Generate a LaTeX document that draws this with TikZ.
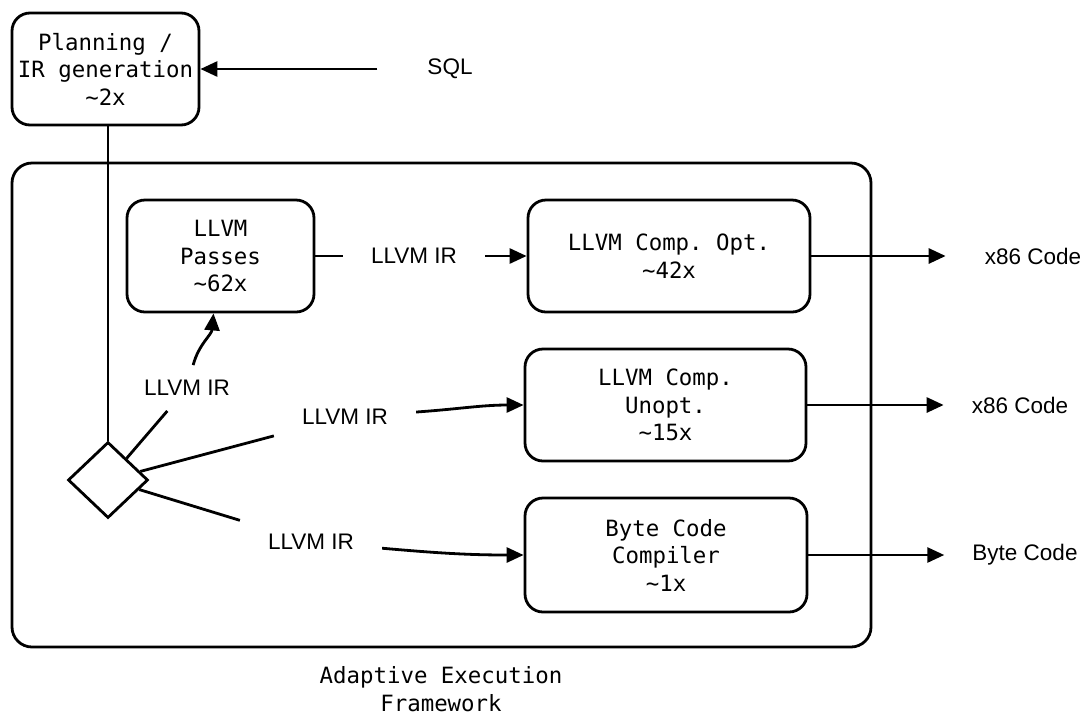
\documentclass[tikz,border=0pt]{standalone}
\usepackage{fontspec}
\setmainfont{Liberation Sans}
\setmonofont{DejaVu Sans Mono}
\usetikzlibrary{arrows.meta, shapes.geometric}

\begin{document}
\begin{tikzpicture}[x=1pt, y=1pt,
        box/.style={draw, line width=2.8pt, rounded corners=18pt, align=center, inner sep=0pt,
            font=\ttfamily\fontsize{22.4}{27.5}\selectfont},
        lbl/.style={inner xsep=28pt, inner ysep=15pt, font=\fontsize{22.5}{26}\selectfont},
        conn/.style={line width=2.8pt},
        arr/.style={line width=2.8pt, -{Triangle[length=17pt, width=15pt]}}]
    \useasboundingbox (0,0) rectangle (1083,-716);

    % outer frame and its caption
    \node[box, rounded corners=20pt, minimum width=859pt, minimum height=484pt] at (441.5,-405) (frame) {};
    \node[font=\ttfamily\fontsize{22.4}{28}\selectfont, align=center] at (441,-689) (caption) {Adaptive Execution\\Framework};

    % stages
    \node[box, minimum width=187pt, minimum height=112pt] at (105.5,-69) (plan) {Planning /\\IR generation\\\textasciitilde2x};
    \node[box, minimum width=187pt, minimum height=112pt] at (220.5,-256) (passes) {LLVM\\Passes\\\textasciitilde62x};
    \node[box, minimum width=282pt, minimum height=112pt] at (669,-256) (opt) {LLVM Comp. Opt.\\\textasciitilde42x};
    \node[box, minimum width=281pt, minimum height=112pt] at (665.5,-405) (unopt) {LLVM Comp.\\Unopt.\\\textasciitilde15x};
    \node[box, minimum width=282pt, minimum height=114pt] at (666,-555) (bytec) {Byte Code\\Compiler\\\textasciitilde1x};
    \node[draw, diamond, line width=2.8pt, inner sep=0pt, minimum width=80pt, minimum height=76pt] at (108,-480) (dia) {};

    % edge labels
    \node[lbl, inner xsep=50pt] at (450,-69) (sql) {SQL};
    \node[lbl] at (414,-256) (ir0) {LLVM IR};
    \node[lbl] at (187,-388) (ir1) {LLVM IR};
    \node[lbl] at (345,-417) (ir2) {LLVM IR};
    \node[lbl] at (311,-542) (ir3) {LLVM IR};
    \node[lbl, inner xsep=39pt] at (1033,-256) (optout) {x86 Code};
    \node[lbl] at (1020,-405) (unoptout) {x86 Code};
    \node[lbl] at (1025,-555) (bytecout) {Byte Code};

    \draw[arr] (sql) -- (plan);
    \draw[conn] (plan.south -| dia) -- (dia.north);
    \draw[conn] (dia) -- (ir1);
    \draw[conn] (dia) -- (ir2);
    \draw[conn] (dia) -- (ir3);
    \draw[arr] (ir1) to[out=75, in=-95] ([xshift=-7pt]passes.south);
    \draw[arr] (ir2) to[out=4, in=180] (unopt.west);
    \draw[arr] (ir3) to[out=-5, in=180] (bytec.west);
    \draw[conn] (passes) -- (ir0);
    \draw[arr] (ir0) -- (opt);
    \draw[arr] (opt) -- (optout);
    \draw[arr] (unopt) -- (unoptout);
    \draw[arr] (bytec) -- (bytecout);
\end{tikzpicture}
\end{document}
